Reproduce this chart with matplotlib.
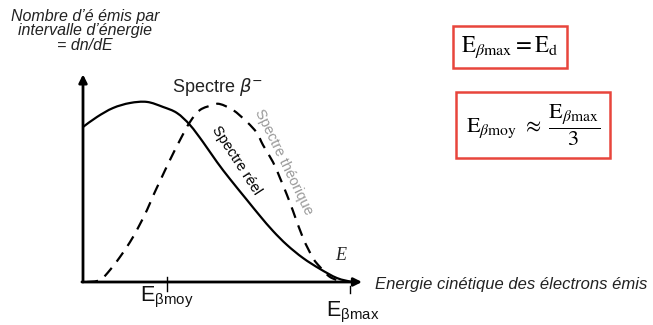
import matplotlib
matplotlib.use("Agg")
import matplotlib.pyplot as plt
from matplotlib.path import Path
from matplotlib.patches import PathPatch
import numpy as np

# ---- data (energy in units of E_beta_max, intensity normalised) ----
reel_E = [0.0, 0.0524, 0.1124, 0.176, 0.2397, 0.2996, 0.3521, 0.4007, 0.4494, 0.5019,
          0.5506, 0.6142, 0.6629, 0.7116, 0.764, 0.824, 0.8876, 0.9513, 1.0075]
reel_N = [0.866, 0.922, 0.972, 1.0, 1.006, 0.978, 0.944, 0.877, 0.782, 0.67,
          0.575, 0.458, 0.369, 0.285, 0.207, 0.134, 0.073, 0.022, 0.0]
theo_E = [0.015, 0.0637, 0.1011, 0.1386, 0.176, 0.206, 0.2397, 0.2622, 0.2884, 0.3258,
          0.3633, 0.4007, 0.4382, 0.4869, 0.5131, 0.5618, 0.6142, 0.6517, 0.6742, 0.7116,
          0.7378, 0.764, 0.7865, 0.824, 0.8614, 0.8876, 0.9251, 0.9738]
theo_N = [0.0, 0.011, 0.067, 0.14, 0.223, 0.302, 0.402, 0.48, 0.564, 0.682,
          0.793, 0.894, 0.961, 0.989, 0.994, 0.961, 0.894, 0.832, 0.765, 0.67,
          0.581, 0.486, 0.397, 0.246, 0.134, 0.084, 0.028, 0.0]
tick_pos = [0.315, 1.0]

W, H = 653, 325
fig = plt.figure(figsize=(W / 100, H / 100), dpi=100)
fig.patch.set_facecolor("white")

# axes: origin at pixel (83, 282); E=1 at x=350; N=1 at y=103
xmax, ymax = 1.1, 1.16
ax = fig.add_axes([83 / W, 43 / H, xmax * 267 / W, ymax * 179 / H])
ax.set_xlim(0, xmax)
ax.set_ylim(0, ymax)
ax.axis("off")


def smooth_path(xs, ys):
    """Catmull-Rom curve through the given points, as cubic Bezier segments."""
    p = np.column_stack([xs, ys])
    verts = [p[0]]
    codes = [Path.MOVETO]
    n = len(p)
    for i in range(n - 1):
        p0 = p[i - 1] if i > 0 else p[i]
        p1, p2 = p[i], p[i + 1]
        p3 = p[i + 2] if i + 2 < n else p[i + 1]
        c1 = p1 + (p2 - p0) / 6.0
        c2 = p2 - (p3 - p1) / 6.0
        verts += [c1, c2, p2]
        codes += [Path.CURVE4] * 3
    return Path(verts, codes)


ax.add_patch(PathPatch(smooth_path(reel_E, reel_N), facecolor="none", edgecolor="black",
                       lw=1.6, zorder=3))
ax.add_patch(PathPatch(smooth_path(theo_E, theo_N), facecolor="none", edgecolor="black",
                       lw=1.6, linestyle=(0, (5, 3.6)), zorder=3))

# axes arrows
ax.annotate("", xy=(0, ymax), xytext=(0, 0),
            arrowprops=dict(arrowstyle="-|>", lw=2, color="black", mutation_scale=12,
                            shrinkA=0, shrinkB=0), annotation_clip=False)
ax.annotate("", xy=(1.045, 0), xytext=(-0.004, 0),
            arrowprops=dict(arrowstyle="-|>", lw=2, color="black", mutation_scale=12,
                            shrinkA=0, shrinkB=0), annotation_clip=False)

# ticks
ax.plot([tick_pos[0]] * 2, [-0.05, 0.03], color="black", lw=1, clip_on=False)
ax.plot([tick_pos[1]] * 2, [-0.06, -0.02], color="black", lw=1, clip_on=False)

ax.text(tick_pos[0], -0.015, r"E$_{\mathregular{\beta moy}}$", ha="center", va="top",
        fontsize=15.5, family="Liberation Sans", color="#111111")
ax.text(tick_pos[1] + 0.012, -0.1, r"E$_{\mathregular{\beta max}}$", ha="center", va="top",
        fontsize=15.5, family="Liberation Sans", color="#111111")


def px(x, y):
    return x / W, 1 - y / H


# y-axis title
fig.text(*px(85, 31), "Nombre d’é émis par\nintervalle d’énergie\n= dn/dE", ha="center",
         va="center", fontsize=11.5, style="italic", family="Liberation Sans",
         color="#222222", linespacing=0.98)

fig.text(*px(172, 87), r"Spectre $\beta^{-}$", ha="left", va="center", fontsize=13,
         family="Liberation Sans", color="#222222")
fig.text(*px(236, 160), "Spectre réel", ha="center", va="center", fontsize=10.5,
         family="Liberation Sans", rotation=-57, color="black")
fig.text(*px(284, 162), "Spectre théorique", ha="center", va="center", fontsize=10.5,
         family="Liberation Sans", rotation=-64, color="#9a9a9a")

fig.text(*px(341, 256), "E", ha="center", va="center", fontsize=13, style="italic",
         family="Liberation Serif", color="#222222")
fig.text(*px(375, 284), "Energie cinétique des électrons émis", ha="left", va="center",
         fontsize=12, style="italic", family="Liberation Sans", color="#222222")

plt.rcParams["mathtext.fontset"] = "stix"
box = dict(boxstyle="square,pad=0.35", facecolor="white", edgecolor="#e8453c", lw=1.8)
fig.text(*px(510, 47), r"$\mathrm{E}_{\beta\mathrm{max}} = \mathrm{E}_{\mathrm{d}}$",
         ha="center", va="center", fontsize=16.5, bbox=box)
box2 = dict(boxstyle="square,pad=0.45", facecolor="white", edgecolor="#e8453c", lw=1.8)
fig.text(*px(533, 125),
         r"$\mathrm{E}_{\beta\mathrm{moy}}\ \approx\ \dfrac{\mathrm{E}_{\beta\mathrm{max}}}{3}$",
         ha="center", va="center", fontsize=16, bbox=box2)

fig.savefig("out.png", dpi=100, facecolor="white")
